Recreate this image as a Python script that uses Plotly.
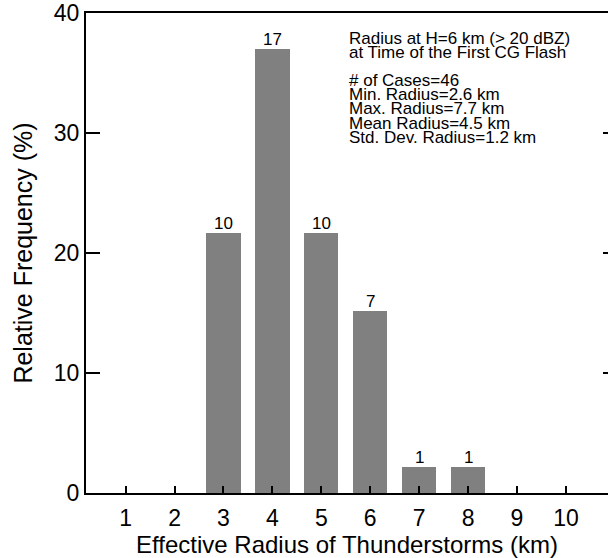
import plotly.graph_objects as go

# ---- data ----
radius_km = [1, 2, 3, 4, 5, 6, 7, 8, 9, 10]
rel_freq_pct = [0, 0, 21.7, 37.0, 21.7, 15.2, 2.2, 2.2, 0, 0]
case_counts = [0, 0, 10, 17, 10, 7, 1, 1, 0, 0]
x_tick_vals = [1, 2, 3, 4, 5, 6, 7, 8, 9, 10]
y_tick_vals = [0, 10, 20, 30, 40]
right_tick_vals = [10, 20, 30]
info_lines = [
    "Radius at H=6 km (> 20 dBZ)",
    "at Time of the First CG Flash",
    "",
    "# of Cases=46",
    "Min. Radius=2.6 km",
    "Max. Radius=7.7 km",
    "Mean Radius=4.5 km",
    "Std. Dev. Radius=1.2 km",
]
x_title = "Effective Radius of Thunderstorms (km)"
y_title = "Relative Frequency (%)"

FONT = "Liberation Sans, Arial, Helvetica, sans-serif"
W, H = 608, 558
ML, MR, MT, MB = 86, 0, 13, 65
plot_h = H - MT - MB

fig = go.Figure()
fig.add_trace(go.Bar(
    x=radius_km, y=rel_freq_pct, width=0.7,
    marker=dict(color="#808080", line=dict(width=0)),
    cliponaxis=False, showlegend=False,
))
fig.add_trace(go.Scatter(x=[None], y=[None], yaxis="y2", showlegend=False, hoverinfo="skip"))

# count labels above the bars
for xv, yv, c in zip(radius_km, rel_freq_pct, case_counts):
    if not c:
        continue
    fig.add_annotation(
        x=xv, y=yv, xref="x", yref="y", text=str(c), showarrow=False,
        xanchor="center", yanchor="bottom", yshift=-2,
        font=dict(size=17, color="black", family=FONT),
    )

# info text block, one annotation per line (tight line spacing)
line_top_px = 38
line_step_px = 14.2
for i, line in enumerate(info_lines):
    if not line:
        continue
    ypx = line_top_px + i * line_step_px
    fig.add_annotation(
        xref="paper", yref="paper", x=0.5, y=1 - (ypx - MT) / plot_h,
        xanchor="left", yanchor="middle", text=line, showarrow=False,
        font=dict(size=17, color="black", family=FONT),
    )

fig.update_layout(
    width=W, height=H,
    margin=dict(l=ML, r=MR, t=MT, b=MB, pad=0),
    paper_bgcolor="white", plot_bgcolor="white",
    font=dict(family=FONT, color="black"),
    xaxis=dict(
        range=[0.19, 10.86], tickvals=x_tick_vals, ticks="inside", ticklen=7,
        tickwidth=2, tickcolor="black", showline=True, linewidth=2,
        linecolor="black", mirror=True, showgrid=False, zeroline=False,
        tickfont=dict(size=23, family=FONT, color="black"),
        ticklabelstandoff=3,
        title=dict(text=x_title, font=dict(size=24, family=FONT, color="black"), standoff=2),
    ),
    yaxis=dict(
        range=[0, 40], tickvals=y_tick_vals, ticks="inside", ticklen=14,
        tickwidth=2, tickcolor="black", showline=True, linewidth=2,
        linecolor="black", mirror=False, showgrid=False, zeroline=False,
        tickfont=dict(size=23, family=FONT, color="black"),
        title=dict(text=y_title, font=dict(size=25, family=FONT, color="black"), standoff=14),
    ),
    yaxis2=dict(
        overlaying="y", side="right", range=[0, 40], tickvals=right_tick_vals,
        ticks="inside", ticklen=5, tickwidth=2, tickcolor="black",
        showticklabels=False, showline=False, showgrid=False, zeroline=False,
    ),
    bargap=0,
)

fig.write_html("out.html")
